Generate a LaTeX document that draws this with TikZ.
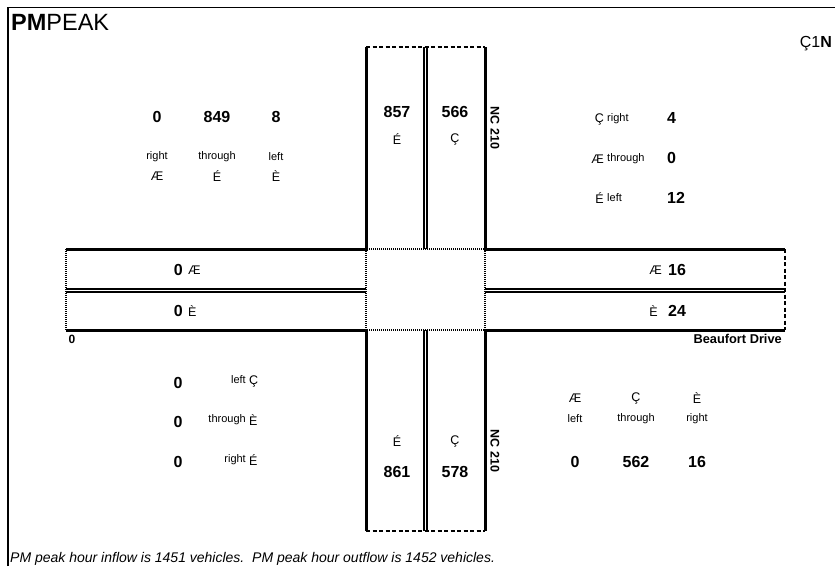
\documentclass[tikz,border=0pt]{standalone}
\usepackage{fontspec}
\setmainfont{Liberation Sans}
\begin{document}
\begin{tikzpicture}[x=1pt,y=-1pt,
  road/.style={line width=3pt},
  lane/.style={line width=1.3pt},
  dotl/.style={line width=1.3pt, dash pattern=on 1pt off 1pt},
  dashl/.style={line width=1.5pt, dash pattern=on 4pt off 2.5pt},
  num/.style={font=\fontsize{16}{18}\selectfont\bfseries, inner sep=0},
  lbl/.style={font=\fontsize{11}{13}\selectfont, inner sep=0},
  arr/.style={font=\fontsize{12.5}{14}\selectfont, inner sep=0},
  rname/.style={font=\fontsize{12.5}{14}\selectfont\bfseries, inner sep=0},
]
\useasboundingbox (0,0) rectangle (835,566);
% frame
\draw[line width=1.5pt] (8,566) -- (8,7.5) -- (835,7.5);
% roads
\draw[road] (366,47) -- (366,249) -- (66,249);
\draw[road] (485,47) -- (485,249) -- (785,249);
\draw[road] (66,330) -- (366,330) -- (366,531);
\draw[road] (785,330) -- (485,330) -- (485,531);
% lane dividers
\draw[lane] (424,47) -- (424,249) (427,47) -- (427,249);
\draw[lane] (424,330) -- (424,531) (427,330) -- (427,531);
\draw[lane] (66,289) -- (366,289) (66,292) -- (366,292);
\draw[lane] (485,289) -- (785,289) (485,292) -- (785,292);
% dotted and dashed ends
\draw[dotl] (366,249) rectangle (485,330);
\draw[dotl] (66,249) -- (66,330);
\draw[dashl] (366,47) -- (485,47);
\draw[dashl] (366,531) -- (485,531);
\draw[dashl] (785,249) -- (785,330);
% titles
\node[anchor=base west, inner sep=0, font=\fontsize{23.5}{26}\selectfont] (title) at (11,30) {\textbf{PM}PEAK};
\node[anchor=base east, inner sep=0, font=\fontsize{16}{18}\selectfont] (north) at (832,47) {Ç1\textbf{N}};
% NW block
\node[num] (nwr) at (157,117) {0};
\node[num] (nwt) at (217,117) {849};
\node[num] (nwl) at (276,117) {8};
\node[lbl] (nwrl) at (157,157) {right};
\node[lbl] (nwtl) at (217,157) {through};
\node[lbl] (nwll) at (276,157) {left};
\node[arr] (nwra) at (157,176) {Æ};
\node[arr] (nwta) at (217,176) {É};
\node[arr] (nwla) at (276,176) {È};
% north road
\node[num] (n1) at (397,112) {857};
\node[arr] (n1a) at (397,139) {É};
\node[num] (n2) at (455,112) {566};
\node[arr] (n2a) at (455,139) {Ç};
\node[rname, rotate=-90] (nc1) at (495,128) {NC 210};
% NE block
\node[arr, anchor=east] (ner) at (604,119) {Ç};
\node[lbl, anchor=west] (nerl) at (607,119) {right};
\node[num, anchor=west] (nerv) at (667,118) {4};
\node[arr, anchor=east] (net) at (604,159) {Æ};
\node[lbl, anchor=west] (netl) at (607,159) {through};
\node[num, anchor=west] (netv) at (667,158) {0};
\node[arr, anchor=east] (nel) at (604,198) {É};
\node[lbl, anchor=west] (nell) at (607,198) {left};
\node[num, anchor=west] (nelv) at (667,198) {12};
% west road
\node[num, anchor=east] (w1) at (183,270) {0};
\node[arr, anchor=west] (w1a) at (188,270) {Æ};
\node[num, anchor=east] (w2) at (183,311) {0};
\node[arr, anchor=west] (w2a) at (188,311) {È};
\node[font=\fontsize{12}{13}\selectfont\bfseries, inner sep=0] (wz) at (72,339) {0};
% east road
\node[arr, anchor=east] (e1a) at (662,270) {Æ};
\node[num, anchor=west] (e1) at (668,270) {16};
\node[arr, anchor=east] (e2a) at (658,311) {È};
\node[num, anchor=west] (e2) at (668,311) {24};
\node[font=\fontsize{12.8}{14}\selectfont\bfseries, inner sep=0, anchor=east] (bd) at (782,339) {Beaufort Drive};
% SW block
\node[num] (swl) at (178,383) {0};
\node[lbl, anchor=east] (swll) at (246,380) {left};
\node[arr, anchor=west] (swla) at (249,381) {Ç};
\node[num] (swt) at (178,422) {0};
\node[lbl, anchor=east] (swtl) at (246,420) {through};
\node[arr, anchor=west] (swta) at (249,420) {È};
\node[num] (swr) at (178,462) {0};
\node[lbl, anchor=east] (swrl) at (246,460) {right};
\node[arr, anchor=west] (swra) at (249,460) {É};
% south road
\node[arr] (s1a) at (397,441) {É};
\node[num] (s1) at (397,472) {861};
\node[arr] (s2a) at (455,441) {Ç};
\node[num] (s2) at (455,472) {578};
\node[rname, rotate=-90] (nc2) at (495,451) {NC 210};
% SE block
\node[arr] (sela) at (575,398) {Æ};
\node[lbl] (sell) at (575,419) {left};
\node[num] (selv) at (575,462) {0};
\node[arr] (seta) at (636,398) {Ç};
\node[lbl] (setl) at (636,419) {through};
\node[num] (setv) at (636,462) {562};
\node[arr] (sera) at (697,398) {È};
\node[lbl] (serl) at (697,419) {right};
\node[num] (serv) at (697,462) {16};
% footer
\node[anchor=base west, inner sep=0, font=\fontsize{14}{16}\selectfont\itshape] (foot) at (10,562) {PM peak hour inflow is 1451 vehicles.\ \ PM peak hour outflow is 1452 vehicles.};
\end{tikzpicture}
\end{document}
